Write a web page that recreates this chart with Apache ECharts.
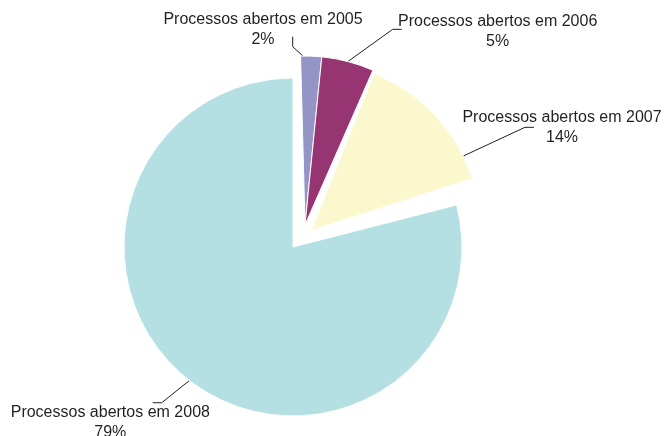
<!DOCTYPE html>
<html>
<head>
<meta charset="utf-8">
<script src="https://cdn.jsdelivr.net/npm/echarts@6/dist/echarts.min.js"></script>
<style>
  html, body { margin: 0; padding: 0; background: #fff; }
  #chart { width: 664px; height: 436px; }
</style>
</head>
<body>
<div id="chart"></div>
<script>
// dados do gráfico
var categories = ['Processos abertos em 2005', 'Processos abertos em 2006', 'Processos abertos em 2007', 'Processos abertos em 2008'];
var values = [2, 5, 14, 79];
var colors = ['#9494c7', '#963572', '#fbf8cd', '#b4dfe3'];

var chart = echarts.init(document.getElementById('chart'), null, { renderer: 'canvas' });

// posição das linhas de chamada e textos, relativa ao ponto da fatia
var labelGeom = {
  0: { start: [-7, 1], elbow: [-18.5, -9.4], end: [-18.5, -19.4], text: [-48.2, -26.8] },
  1: { start: [0, 0], elbow: [44.8, -32.2], end: [53.8, -32.2], text: [149.8, -29.8] },
  2: { start: [28.4, 41], elbow: [90.1, 12.3], end: [99.1, 12.3], text: [127.1, 12.5] },
  3: { start: [0, 0], elbow: [-27.7, 22.2], end: [-36.7, 22.2], text: [-79.1, 42] }
};

function moveLabel(p) {
  var g = labelGeom[p.dataIndex];
  var pts = p.labelLinePoints;
  if (!g || !pts) return {};
  var a = pts[0];
  var add = function (o) { return [a[0] + o[0], a[1] + o[1]]; };
  var t = add(g.text);
  return {
    x: t[0], y: t[1], align: 'center', verticalAlign: 'middle',
    labelLinePoints: [add(g.start), add(g.elbow), add(g.end)]
  };
}

// uma série por grupo de fatias destacadas
function makeSeries(shown, center, startAngle) {
  return {
    type: 'pie',
    radius: 169,
    center: center,
    startAngle: startAngle,
    clockwise: true,
    avoidLabelOverlap: false,
    percentPrecision: 0,
    silent: true,
    emphasis: { disabled: true },
    label: {
      show: true,
      position: 'outside',
      formatter: '{b}\n{d}%',
      fontFamily: 'Liberation Sans',
      fontSize: 16,
      lineHeight: 20,
      color: '#231f20'
    },
    labelLine: { show: true, length: 10, length2: 10, lineStyle: { color: '#231f20', width: 1 } },
    labelLayout: moveLabel,
    data: categories.map(function (name, i) {
      var on = shown.indexOf(i) >= 0;
      return {
        name: name,
        value: values[i],
        itemStyle: on ? { color: colors[i], borderColor: '#fff', borderWidth: 1 } : { color: 'rgba(0,0,0,0)', borderWidth: 0 },
        label: { show: on },
        labelLine: { show: on }
      };
    })
  };
}

var option = {
  backgroundColor: '#fff',
  animation: false,
  series: [
    makeSeries([3], [293, 247], 90),
    makeSeries([0, 1], [305, 225], 91.5),
    makeSeries([2], [311.5, 230.5], 93.5)
  ]
};

chart.setOption(option);
</script>
</body>
</html>
